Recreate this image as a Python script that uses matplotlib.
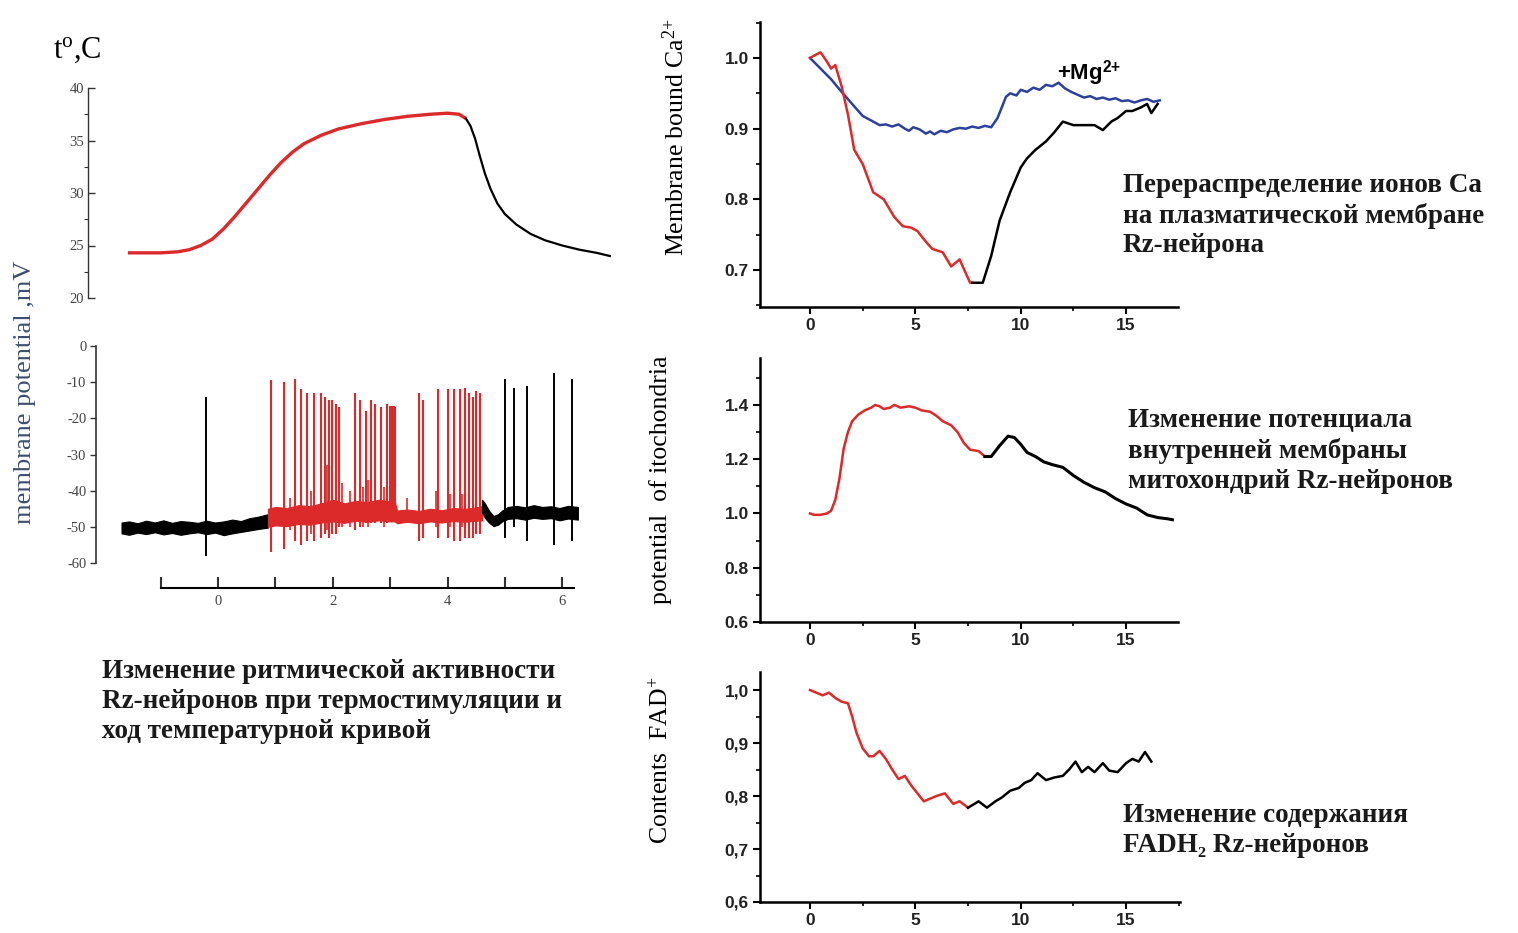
import numpy as np
import matplotlib
matplotlib.use("Agg")
import matplotlib.pyplot as plt
from matplotlib.ticker import MultipleLocator

W, H = 1518, 933
plt.rcParams['mathtext.fontset'] = 'custom'
plt.rcParams['mathtext.rm'] = 'Liberation Serif'
plt.rcParams['mathtext.it'] = 'Liberation Serif:italic'
plt.rcParams['mathtext.bf'] = 'Liberation Sans:bold'

SERIF = ['Liberation Serif', 'DejaVu Serif']
SANS = ['Liberation Sans', 'DejaVu Sans']
RED = '#dc2a2a'
BLUE = '#2c419c'
SLATE = '#3d4e6e'

# ---------------- data: temperature curve (minutes, deg C) ----------------
temp_t_red = [-1.57, -1.0, -0.7, -0.5, -0.3, -0.1, 0.1, 0.3, 0.5, 0.7, 0.9, 1.1, 1.3,
              1.5, 1.8, 2.1, 2.5, 2.9, 3.3, 3.7, 4.0, 4.2, 4.32]
temp_red = [24.3, 24.3, 24.4, 24.6, 25.0, 25.6, 26.6, 27.8, 29.1, 30.4, 31.7, 32.9, 33.9,
            34.7, 35.5, 36.1, 36.6, 37.0, 37.3, 37.5, 37.6, 37.5, 37.1]
temp_t_black = [4.32, 4.40, 4.48, 4.56, 4.65, 4.75, 4.87, 5.0, 5.2, 5.45, 5.7, 6.0, 6.3,
                6.6, 6.83]
temp_black = [37.1, 36.4, 35.2, 33.6, 31.9, 30.4, 29.0, 28.0, 27.0, 26.1, 25.5, 25.0,
              24.6, 24.3, 24.0]

# ---------------- data: membrane potential (minutes, mV) ----------------
pre_spike_t = [-0.2]
pre_spike_peak = [-14]
pre_spike_trough = [-58]

red_spike_t = [0.92, 1.15, 1.34, 1.45, 1.55, 1.68, 1.80, 1.87, 1.93, 1.98, 2.05, 2.11,
               2.38, 2.48, 2.58, 2.66, 2.74, 2.84, 2.94, 3.00, 3.03, 3.06, 3.08,
               3.51, 3.57, 3.84, 4.01, 4.11, 4.21, 4.31, 4.37, 4.44, 4.50, 4.57]
red_spike_peak = [-9.5, -10, -9, -12, -13, -13, -13, -14, -15, -15, -16, -17,
                  -13, -15, -18, -15, -16, -17, -16, -16.5, -16.5, -16.5, -17,
                  -13, -15, -12, -12, -12, -12, -11.5, -13, -14, -12.5, -13]
red_spike_trough = [-57, -56, -54, -55, -54, -54, -53, -52, -53, -52, -52, -50,
                    -51, -50, -49, -49, -49, -49, -49, -48, -48, -47, -47,
                    -54, -53, -53, -53, -54, -54, -53, -53, -53, -52, -52]
red_small_t = [1.25, 1.62, 1.90, 2.16, 2.30, 2.52, 2.62, 2.90, 3.30, 3.80, 4.05, 4.25]
red_small_peak = [-42, -40, -33, -38, -40, -39, -37, -39, -42, -40, -41, -41]
red_small_trough = [-51, -52, -51, -50, -50, -50, -50, -50, -49, -50, -50, -50]

post_spike_t = [5.0, 5.15, 5.39, 5.85, 6.17]
post_spike_peak = [-9, -11.5, -11, -7.5, -9]
post_spike_trough = [-53, -50, -54, -55, -54]

base_pre_t = [-1.68, -1.55, -1.4, -1.25, -1.1, -0.95, -0.8, -0.65, -0.5, -0.35, -0.2,
              -0.05, 0.1, 0.25, 0.4, 0.55, 0.7, 0.87]
base_pre_top = [-48.8, -48.5, -49.0, -48.3, -48.8, -48.2, -48.9, -48.4, -48.6, -48.9,
                -48.3, -48.8, -48.5, -48.0, -48.4, -47.6, -47.2, -46.5]
base_pre_bot = [-51.8, -52.2, -51.6, -52.0, -51.5, -52.1, -51.7, -52.2, -51.8, -51.5,
                -52.0, -51.6, -52.3, -51.8, -51.4, -51.0, -50.6, -50.2]

base_red_t = [0.87, 1.0, 1.2, 1.4, 1.6, 1.8, 2.0, 2.2, 2.4, 2.6, 2.8, 3.0, 3.08, 3.12,
              3.3, 3.5, 3.7, 3.9, 4.1, 4.3, 4.5, 4.6]
base_red_top = [-45, -44.5, -44.8, -44, -44.3, -43.5, -42.5, -43.5, -42.8, -43.2, -42.5,
                -43, -43, -45.5, -45.2, -45.6, -45, -45.4, -44.8, -45, -44.6, -44.3]
base_red_bot = [-50, -49.6, -49.8, -49.2, -49.4, -48.8, -48.5, -48.9, -48.3, -48.6,
                -48.2, -48.5, -48.5, -49, -48.6, -49, -48.5, -48.8, -48.4, -48.6,
                -48.3, -48.2]

base_post_t = [4.6, 4.65, 4.72, 4.8, 4.88, 4.95, 5.05, 5.2, 5.35, 5.5, 5.65, 5.8, 5.95,
               6.1, 6.27]
base_post_top = [-42.5, -43.5, -45.5, -47, -46.5, -45.5, -44.5, -44.2, -44.6, -44,
                 -44.5, -44.3, -44.8, -44.2, -44.5]
base_post_bot = [-46, -47.5, -48.8, -49.8, -49.4, -48.5, -47.8, -47.6, -48, -47.5,
                 -47.8, -47.6, -48.2, -47.7, -48]

# ---------------- data: membrane bound Ca2+ ----------------
ca_t_red = [0, 0.3, 0.5, 0.8, 1.0, 1.2, 1.5, 1.8, 2.1, 2.5, 3.0, 3.5, 4.0, 4.4, 4.8,
            5.1, 5.5, 5.8, 6.3, 6.7, 7.1, 7.4, 7.6, 7.7]
ca_red = [1.0, 1.005, 1.008, 0.995, 0.985, 0.99, 0.96, 0.92, 0.87, 0.85, 0.81, 0.80,
          0.775, 0.762, 0.76, 0.755, 0.74, 0.73, 0.725, 0.705, 0.715, 0.695, 0.682, 0.682]
ca_t_black = [7.7, 8.2, 8.6, 9.0, 9.5, 10.0, 10.3, 10.7, 11.2, 11.6, 12.0, 12.5, 13.0,
              13.5, 13.9, 14.3, 14.6, 15.0, 15.3, 15.7, 16.0, 16.2, 16.5]
ca_black = [0.682, 0.682, 0.72, 0.77, 0.81, 0.845, 0.858, 0.87, 0.882, 0.895, 0.91,
            0.905, 0.905, 0.905, 0.898, 0.91, 0.915, 0.925, 0.925, 0.93, 0.935, 0.922, 0.935]
ca_t_mg = [0, 0.5, 1.0, 1.5, 2.0, 2.5, 3.0, 3.3, 3.6, 3.9, 4.2, 4.5, 4.7, 4.9, 5.2, 5.5,
           5.7, 5.9, 6.2, 6.5, 6.8, 7.1, 7.4, 7.7, 8.0, 8.3, 8.6, 8.9, 9.1, 9.3, 9.5, 9.8,
           10.0, 10.3, 10.6, 10.9, 11.2, 11.5, 11.8, 12.1, 12.4, 12.7, 13.0, 13.3, 13.6,
           13.9, 14.2, 14.5, 14.8, 15.1, 15.4, 15.7, 16.0, 16.3, 16.6]
ca_mg = [1.0, 0.985, 0.97, 0.952, 0.935, 0.918, 0.91, 0.905, 0.906, 0.903, 0.906, 0.9,
         0.897, 0.902, 0.899, 0.893, 0.896, 0.892, 0.897, 0.895, 0.899, 0.901, 0.9, 0.903,
         0.901, 0.904, 0.902, 0.915, 0.93, 0.945, 0.95, 0.947, 0.955, 0.952, 0.958, 0.955,
         0.962, 0.96, 0.965, 0.957, 0.952, 0.948, 0.944, 0.946, 0.942, 0.944, 0.941,
         0.943, 0.939, 0.94, 0.937, 0.94, 0.942, 0.938, 0.94]

# ---------------- data: mitochondrial potential ----------------
mi_t_red = [0, 0.2, 0.5, 0.8, 1.0, 1.2, 1.4, 1.6, 1.8, 2.0, 2.3, 2.6, 2.9, 3.1, 3.3,
            3.5, 3.8, 4.0, 4.3, 4.7, 5.0, 5.3, 5.7, 6.0, 6.3, 6.7, 7.0, 7.3, 7.6, 8.0, 8.3]
mi_red = [1.0, 0.995, 0.995, 1.0, 1.01, 1.05, 1.13, 1.24, 1.3, 1.34, 1.365, 1.38, 1.39,
          1.4, 1.395, 1.385, 1.39, 1.4, 1.39, 1.395, 1.39, 1.38, 1.375, 1.36, 1.34,
          1.325, 1.3, 1.26, 1.235, 1.23, 1.21]
mi_t_black = [8.3, 8.6, 9.0, 9.4, 9.7, 10.0, 10.3, 10.7, 11.1, 11.5, 12.0, 12.5, 13.0,
              13.5, 14.0, 14.5, 15.0, 15.5, 16.0, 16.5, 17.0, 17.2]
mi_black = [1.21, 1.21, 1.25, 1.285, 1.28, 1.255, 1.225, 1.21, 1.19, 1.18, 1.17, 1.14,
            1.115, 1.095, 1.08, 1.055, 1.035, 1.02, 0.995, 0.985, 0.98, 0.977]

# ---------------- data: FAD+ content ----------------
fad_t_red = [0, 0.3, 0.6, 0.9, 1.2, 1.5, 1.8, 2.0, 2.2, 2.5, 2.8, 3.0, 3.3, 3.6, 3.9,
             4.2, 4.5, 4.8, 5.1, 5.4, 5.7, 6.0, 6.4, 6.8, 7.1, 7.5]
fad_red = [1.0, 0.995, 0.99, 0.995, 0.985, 0.978, 0.975, 0.95, 0.92, 0.89, 0.875, 0.875,
           0.885, 0.87, 0.85, 0.832, 0.838, 0.82, 0.805, 0.79, 0.795, 0.8, 0.805, 0.785,
           0.79, 0.778]
fad_t_black = [7.5, 7.8, 8.0, 8.4, 8.8, 9.1, 9.5, 9.9, 10.2, 10.5, 10.8, 11.2, 11.6,
               12.0, 12.3, 12.6, 12.9, 13.2, 13.5, 13.9, 14.2, 14.6, 15.0, 15.3, 15.6,
               15.9, 16.2]
fad_black = [0.778, 0.785, 0.79, 0.778, 0.79, 0.797, 0.81, 0.815, 0.825, 0.83, 0.843,
             0.83, 0.835, 0.838, 0.85, 0.865, 0.845, 0.855, 0.845, 0.862, 0.848, 0.845,
             0.862, 0.87, 0.865, 0.883, 0.865]

# tick labels
temp_ticks = [20, 25, 30, 35, 40]
mp_ticks = [0, -10, -20, -30, -40, -50, -60]
mp_xticks = [-1, 0, 1, 2, 3, 4, 5, 6]
mp_xlabels = ['', '0', '', '2', '', '4', '', '6']
right_xticks = [0, 5, 10, 15]
ca_yticks = [0.7, 0.8, 0.9, 1.0]
ca_ylabels = ['0.7', '0.8', '0.9', '1.0']
mi_yticks = [0.6, 0.8, 1.0, 1.2, 1.4]
mi_ylabels = ['0.6', '0.8', '1.0', '1.2', '1.4']
fad_yticks = [0.6, 0.7, 0.8, 0.9, 1.0]
fad_ylabels = ['0,6', '0,7', '0,8', '0,9', '1,0']

fig = plt.figure(figsize=(W / 100, H / 100), dpi=100)


def axes_px(l, t, r, b):
    return fig.add_axes([l / W, 1 - b / H, (r - l) / W, (b - t) / H])


def ftext(x, y, s, **kw):
    fig.text(x / W, 1 - y / H, s, **kw)


# ---------------- temperature panel ----------------
at = axes_px(88, 88, 615, 298)
at.set_xlim(-2.265, 6.92)
at.set_ylim(20, 40)
at.plot(temp_t_red, temp_red, color=RED, lw=2.4, solid_capstyle='butt')
at.plot(temp_t_black, temp_black, color='black', lw=1.6)
for s in ['top', 'right', 'bottom']:
    at.spines[s].set_visible(False)
at.spines['left'].set_linewidth(1.0)
at.spines['left'].set_color('#333333')
at.set_xticks([])
at.set_yticks(temp_ticks)
at.yaxis.set_minor_locator(MultipleLocator(2.5))
at.tick_params(axis='y', which='major', direction='in', length=5, width=1, colors='#333333', pad=3)
at.tick_params(axis='y', which='minor', direction='out', length=3, width=0.8, colors='#333333')
for lab in at.get_yticklabels():
    lab.set_fontfamily(SERIF)
    lab.set_fontsize(10.5)
    lab.set_color('#444444')

# ---------------- membrane potential panel ----------------
am = axes_px(96, 340, 580, 590)
am.set_xlim(-2.125, 6.307)
am.set_ylim(-67.46, 1.66)
am.fill_between(base_pre_t, base_pre_bot, base_pre_top, color='black', lw=0.8, edgecolor='black')
am.fill_between(base_red_t, base_red_bot, base_red_top, color=RED, lw=0.8, edgecolor=RED)
am.fill_between(base_post_t, base_post_bot, base_post_top, color='black', lw=0.8, edgecolor='black')
am.vlines(pre_spike_t, pre_spike_trough, pre_spike_peak, color='black', lw=1.4)
am.vlines(red_spike_t, red_spike_trough, red_spike_peak, color=RED, lw=1.5)
am.vlines(red_small_t, red_small_trough, red_small_peak, color=RED, lw=1.2)
am.vlines(post_spike_t, post_spike_trough, post_spike_peak, color='black', lw=1.4)
for s in ['top', 'right']:
    am.spines[s].set_visible(False)
am.spines['left'].set_bounds(-60, 0)
am.spines['left'].set_linewidth(1.2)
am.spines['left'].set_color('#333333')
am.spines['bottom'].set_position(('data', -66.91))
am.spines['bottom'].set_bounds(-1, 6.2)
am.spines['bottom'].set_linewidth(1.5)
am.set_yticks(mp_ticks)
am.set_yticklabels([str(v) for v in mp_ticks])
am.set_xticks(mp_xticks)
am.set_xticklabels(mp_xlabels)
am.tick_params(axis='y', direction='out', length=4, width=1, colors='#333333', pad=3)
am.tick_params(axis='x', direction='in', length=8, width=1.5, colors='#333333', pad=5)
for lab in am.get_yticklabels() + am.get_xticklabels():
    lab.set_fontfamily(SERIF)
    lab.set_fontsize(10.5)
    lab.set_color('#444444')

ftext(53, 50, r't$^{\mathrm{o}}$,C', fontsize=22, family=SERIF, ha='left', va='center')
ftext(25, 392, 'membrane potential ,mV', fontsize=19, family=SERIF, color=SLATE,
      rotation=90, ha='center', va='center')

TXT = dict(fontsize=19.5, family=SERIF, fontweight='bold', ha='left', va='center',
           color='#1a1a1a')
left_lines = ['Изменение ритмической активности',
              'Rz-нейронов при термостимуляции и',
              'ход температурной кривой']
for i, ln in enumerate(left_lines):
    ftext(102, 671 + 30 * i, ln, **TXT)


# ---------------- right panels ----------------
def style_right(ax, yticks, ylabels, yminor):
    for s in ['top', 'right']:
        ax.spines[s].set_visible(False)
    for s in ['left', 'bottom']:
        ax.spines[s].set_linewidth(1.8)
    ax.set_xticks(right_xticks)
    ax.set_xticklabels([str(v) for v in right_xticks])
    ax.xaxis.set_minor_locator(MultipleLocator(2.5))
    ax.set_yticks(yticks)
    ax.set_yticklabels(ylabels)
    ax.yaxis.set_minor_locator(MultipleLocator(yminor))
    ax.tick_params(which='major', direction='out', length=5, width=1.5, pad=3)
    ax.tick_params(which='minor', direction='out', length=3, width=1.2)
    for lab in ax.get_xticklabels() + ax.get_yticklabels():
        lab.set_fontfamily(SANS)
        lab.set_fontweight('bold')
        lab.set_fontsize(12.5)
        lab.set_color('#222222')


a1 = axes_px(760, 22, 1178, 307)
a1.set_xlim(-2.373, 17.466)
a1.set_ylim(0.6477, 1.0509)
a1.plot(ca_t_mg, ca_mg, color=BLUE, lw=1.8)
a1.plot(ca_t_red, ca_red, color=RED, lw=1.8)
a1.plot(ca_t_black, ca_black, color='black', lw=1.8)
style_right(a1, ca_yticks, ca_ylabels, 0.05)

a2 = axes_px(760, 358, 1178, 622)
a2.set_xlim(-2.373, 17.466)
a2.set_ylim(0.6, 1.573)
a2.plot(mi_t_red, mi_red, color=RED, lw=1.8)
a2.plot(mi_t_black, mi_black, color='black', lw=2.2)
style_right(a2, mi_yticks, mi_ylabels, 0.1)

a3 = axes_px(760, 672, 1180, 902)
a3.set_xlim(-2.373, 17.56)
a3.set_ylim(0.6, 1.034)
a3.plot(fad_t_red, fad_red, color=RED, lw=1.8)
a3.plot(fad_t_black, fad_black, color='black', lw=1.8)
style_right(a3, fad_yticks, fad_ylabels, 0.05)

ftext(676, 137, r'Membrane bound Ca$^{2{+}}$', fontsize=18.5, family=SERIF,
      rotation=90, ha='center', va='center')
ftext(661, 480, 'potential  of itochondria', fontsize=18.5, family=SERIF,
      rotation=90, ha='center', va='center')
ftext(661, 760, r'Contents  FAD$^{+}$', fontsize=18.5, family=SERIF,
      rotation=90, ha='center', va='center')

ftext(1057, 73, r'+Mg$^{\mathbf{2{+}}}$', fontsize=16, family=SANS, fontweight='bold',
      ha='left', va='center')

ca_lines = ['Перераспределение ионов Ca', 'на плазматической мембране', 'Rz-нейрона']
for i, ln in enumerate(ca_lines):
    ftext(1123, 186 + 30 * i, ln, **TXT)
mi_lines = ['Изменение потенциала', 'внутренней мембраны', 'митохондрий Rz-нейронов']
for i, ln in enumerate(mi_lines):
    ftext(1128, 421 + 30 * i, ln, **TXT)
fad_lines = ['Изменение содержания', 'FADH\u2082 Rz-нейронов']
for i, ln in enumerate(fad_lines):
    ftext(1123, 816 + 30 * i, ln, **TXT)

fig.savefig('out.png', dpi=100, facecolor='white')
